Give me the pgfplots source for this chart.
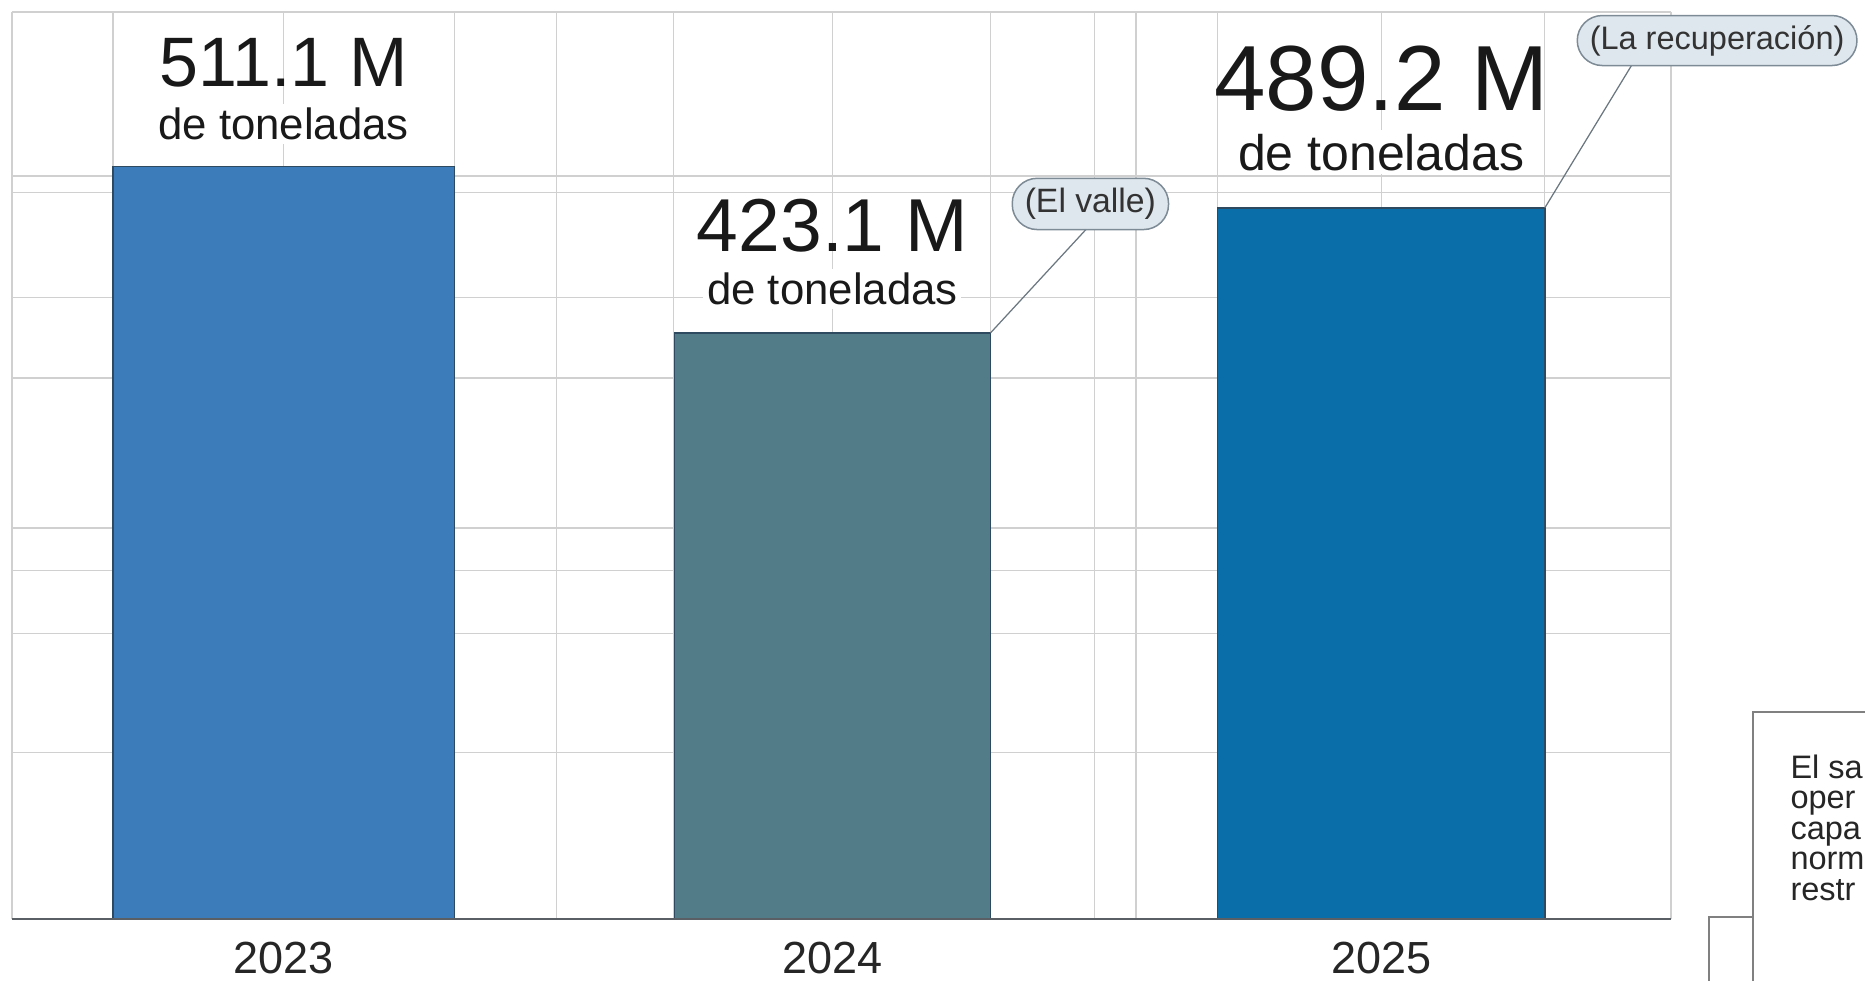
\documentclass[border=0pt]{standalone}
\usepackage{pgfplots}
\pgfplotsset{compat=1.18}
\usepackage{fontspec}
\setmainfont{Liberation Sans}
\definecolor{bA}{HTML}{3C7CBB}
\definecolor{bB}{HTML}{527C87}
\definecolor{bC}{HTML}{0A6FA8}
\definecolor{gridc}{HTML}{D0D0D0}
\definecolor{edgec}{HTML}{2E4A60}
\definecolor{axisc}{HTML}{5A5F66}
\definecolor{pillfill}{HTML}{DFE7EE}
\definecolor{pilldraw}{HTML}{7D8B96}
\definecolor{leader}{HTML}{6B7780}
\begin{document}
\begin{tikzpicture}
\useasboundingbox (0,0) rectangle (746pt,392.4pt);
\clip (0,0) rectangle (746pt,392.4pt);
\begin{axis}[
  at={(4.8pt,24.8pt)}, anchor=south west,
  width=663.6pt, height=362.8pt, scale only axis,
  xmin=-0.495, xmax=2.528, ymin=113.2, ymax=592.8,
  axis line style={draw=none},
  xtick={0,1,2}, xticklabels={2023,2024,2025},
  xticklabel style={anchor=center, yshift=-15.6pt, font=\fontsize{18}{18}\selectfont, text=black!85},
  extra x ticks={-0.495,-0.311,0.311,0.497,0.710,1.288,1.477,1.553,1.702,2.298,2.528},
  extra x tick labels={},
  extra x tick style={xmajorgrids=true, major tick length=0pt},
  ytick={201.2,264.1,297.4,320.0,399.2,442.0,497.3,506.1,592.8},
  yticklabels={},
  xmajorgrids=true, ymajorgrids=true,
  major grid style={draw=gridc, line width=0.5pt},
  major tick length=0pt,
  clip mode=individual,
]
\addplot[ybar, bar shift=0pt, bar width=0.622, fill=bA, draw=edgec, line width=0.6pt] coordinates {(0,511.1)};
\addplot[ybar, bar shift=0pt, bar width=0.576, fill=bB, draw=edgec, line width=0.6pt] coordinates {(1,423.1)};
\addplot[ybar, bar shift=0pt, bar width=0.596, fill=bC, draw=edgec, line width=0.6pt] coordinates {(2,489.2)};

\draw[axisc, line width=0.8pt] (rel axis cs:0,0) -- (rel axis cs:1,0);

% value labels
\node[inner sep=0pt, text=black!90, font=\fontsize{28}{29}\selectfont] at (axis cs:0,565.8) {511.1 M};
\node[inner sep=1.5pt, fill=white, text=black!90, font=\fontsize{17.5}{18}\selectfont] at (axis cs:0,533.7) {de toneladas};
\node[inner sep=0pt, text=black!90, font=\fontsize{30}{31}\selectfont] at (axis cs:1,479.7) {423.1 M};
\node[inner sep=1.5pt, fill=white, text=black!90, font=\fontsize{17.5}{18}\selectfont] at (axis cs:1,446.4) {de toneladas};
\node[inner sep=0pt, text=black!90, font=\fontsize{37}{38}\selectfont] at (axis cs:2,557.6) {489.2 M};
\node[inner sep=1.5pt, fill=white, text=black!90, font=\fontsize{20}{21}\selectfont] at (axis cs:2,518.6) {de toneladas};

% callouts
\draw[leader, line width=0.5pt] (axis cs:1.462,477.8) -- (axis cs:1.288,423.1);
\draw[leader, line width=0.5pt] (axis cs:2.456,564.5) -- (axis cs:2.298,489.2);
\node[draw=pilldraw, fill=pillfill, line width=0.6pt, rounded corners=10pt, minimum height=20.5pt, inner xsep=5pt, inner ysep=0pt, text=black!80, font=\fontsize{13.5}{14}\selectfont]
  at (axis cs:1.470,491.3) {(El valle)};
\node[draw=pilldraw, fill=pillfill, line width=0.6pt, rounded corners=10pt, minimum height=20pt, inner xsep=5pt, inner ysep=0pt, text=black!80, font=\fontsize{13}{14}\selectfont]
  at (axis cs:2.612,577.7) {(La recuperación)};
\end{axis}

% bottom-right note boxes (cut by the picture edge)
\draw[draw=gray, fill=white, line width=0.8pt] (683.6pt,25.6pt) rectangle (800pt,-5pt);
\draw[draw=gray, fill=white, line width=0.8pt] (701.2pt,107.6pt) rectangle (800pt,-5pt);
\node[anchor=north west, inner sep=0pt, align=left, text=black!85, font=\fontsize{13}{12.2}\selectfont] at (716pt,90.8pt)
  {El sa\\oper\\capa\\norm\\restr};
\end{tikzpicture}
\end{document}
